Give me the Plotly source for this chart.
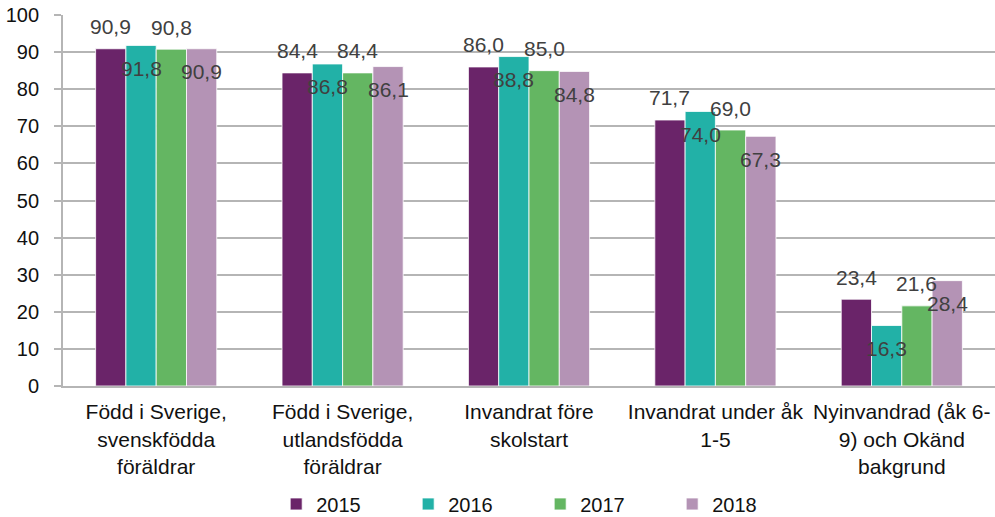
import plotly.graph_objects as go

categories = [
    "Född i Sverige,<br>svenskfödda<br>föräldrar",
    "Född i Sverige,<br>utlandsfödda<br>föräldrar",
    "Invandrat före<br>skolstart",
    "Invandrat under åk<br>1-5",
    "Nyinvandrad (åk 6-<br>9) och Okänd<br>bakgrund",
]
years = ["2015", "2016", "2017", "2018"]
v2015 = [90.9, 84.4, 86.0, 71.7, 23.4]
v2016 = [91.8, 86.8, 88.8, 74.0, 16.3]
v2017 = [90.8, 84.4, 85.0, 69.0, 21.6]
v2018 = [90.9, 86.1, 84.8, 67.3, 28.4]
series = [v2015, v2016, v2017, v2018]
colors = ["#6a2469", "#22b1a7", "#64b662", "#b493b5"]

bargap = 0.35
fig = go.Figure()
for name, vals, col in zip(years, series, colors):
    fig.add_trace(go.Bar(
        x=categories, y=vals, name=name,
        marker=dict(color=col, line=dict(color="white", width=0.8)),
    ))

# data labels: alternating above / below bar top
n = len(series)
bw = (1 - bargap) / n
annotations = []
for i, vals in enumerate(series):
    for j, v in enumerate(vals):
        xpos = j + (i - (n - 1) / 2) * bw
        annotations.append(dict(
            x=xpos, y=v, xref="x", yref="y",
            text=f"{v:.1f}".replace(".", ","),
            showarrow=False, yanchor="middle", xanchor="center",
            yshift=22 if i % 2 == 0 else -23,
            font=dict(size=21, color="#404040"),
        ))

grid = "#b5b5b5"
fig.update_layout(
    width=995, height=517,
    margin=dict(l=63, r=0, t=15, b=131, autoexpand=False),
    barmode="group", bargap=bargap, bargroupgap=0,
    plot_bgcolor="white", paper_bgcolor="white",
    font=dict(family="Liberation Sans, Arial, sans-serif", size=20, color="#111111"),
    annotations=annotations,
    legend=dict(orientation="h", x=0.512, xanchor="center", y=-0.318, yanchor="middle",
                font=dict(size=20, color="#111111"), entrywidth=87, traceorder="normal"),
    yaxis=dict(range=[0, 100], dtick=10, showgrid=True, gridcolor=grid, gridwidth=1.8,
               showline=True, linecolor=grid, linewidth=1.8,
               ticks="outside", ticklen=7, tickcolor=grid, tickwidth=1.8,
               ticklabelstandoff=11, zeroline=False, automargin=False,
               tickfont=dict(size=20, color="#111111")),
    xaxis=dict(showline=True, linecolor=grid, linewidth=2, ticks="", automargin=False,
               tickfont=dict(size=21, color="#111111"), ticklabelstandoff=6),
)

fig.write_html("out.html", config={"displayModeBar": False},
               post_script="document.body.style.margin='0px';")
